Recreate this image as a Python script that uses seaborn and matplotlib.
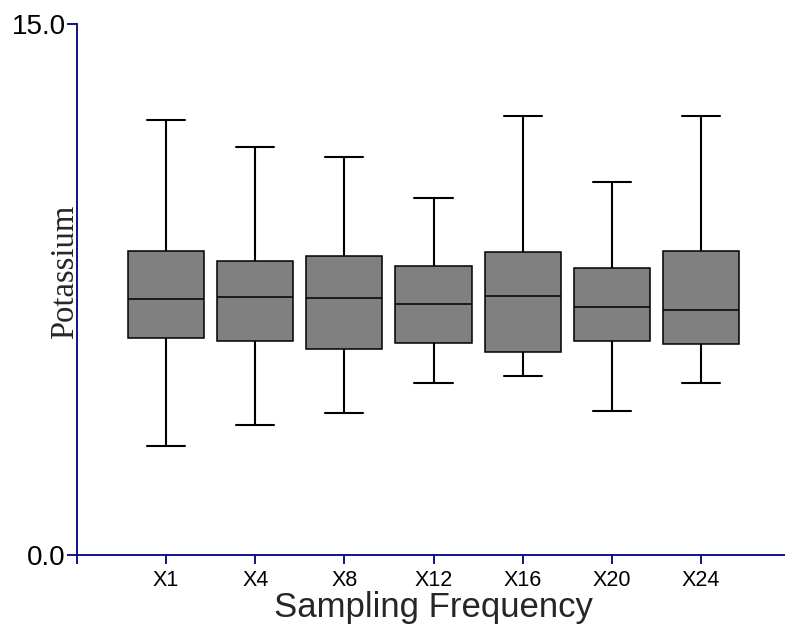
import matplotlib
matplotlib.use("Agg")
import matplotlib.pyplot as plt
import seaborn as sns
import pandas as pd

# Sampling-frequency groups and the five-number summary of potassium in each
groups = ["X1", "X4", "X8", "X12", "X16", "X20", "X24"]
whisker_low = [3.08, 3.68, 4.02, 4.86, 5.06, 4.07, 4.86]
quart_1 = [6.14, 6.05, 5.83, 6.00, 5.73, 6.05, 5.95]
median = [7.22, 7.29, 7.26, 7.10, 7.32, 7.01, 6.93]
quart_3 = [8.60, 8.31, 8.44, 8.16, 8.56, 8.10, 8.60]
whisker_high = [12.29, 11.53, 11.24, 10.08, 12.41, 10.55, 12.41]

y_ticks = [0.0, 15.0]
y_tick_labels = ["0.0", "15.0"]

# Long-form table: one row per summary value, so whis=(0, 100) reproduces the summary
rows = []
for i, g in enumerate(groups):
    for v in (whisker_low[i], quart_1[i], median[i], quart_3[i], whisker_high[i]):
        rows.append({"Sampling Frequency": g, "Potassium": v})
df = pd.DataFrame(rows)

sns.set_style("white")
plt.rcParams["font.family"] = ["Liberation Sans", "DejaVu Sans"]

navy = "#000080"
fig = plt.figure(figsize=(7.85, 6.32), dpi=100)
ax = fig.add_axes([77 / 785, 77 / 632, 713 / 785, 531 / 632])

sns.boxplot(
    data=df, x="Sampling Frequency", y="Potassium", order=groups,
    whis=(0, 100), width=0.855, color="#808080", saturation=1,
    linecolor="black", linewidth=1.1, showfliers=False,
    whiskerprops={"linewidth": 1.5}, capprops={"linewidth": 1.5},
    medianprops={"linewidth": 1.1, "color": "black"},
    ax=ax,
)

ax.set_xlim(-1, 7)
ax.set_ylim(0, 15)
ax.set_yticks(y_ticks)
ax.set_yticklabels(y_tick_labels, fontsize=20)
ax.set_xticks(range(-1, len(groups)))
ax.set_xticklabels([""] + groups, fontsize=15.5)

for side in ("top", "right"):
    ax.spines[side].set_visible(False)
for side in ("left", "bottom"):
    ax.spines[side].set_color(navy)
    ax.spines[side].set_linewidth(1.3)
ax.tick_params(axis="both", direction="out", width=1.3, color=navy,
               labelcolor="black", bottom=True, left=True)
ax.tick_params(axis="y", length=7.2, pad=1)
ax.tick_params(axis="x", length=6.5, pad=4)

ax.set_xlabel("Sampling Frequency", fontsize=25, labelpad=0)
ax.set_ylabel("Potassium", fontsize=23.5, family=["Liberation Serif", "DejaVu Serif"])
ax.yaxis.set_label_coords(0.004, 0.533)

fig.savefig("out.png", dpi=100)
